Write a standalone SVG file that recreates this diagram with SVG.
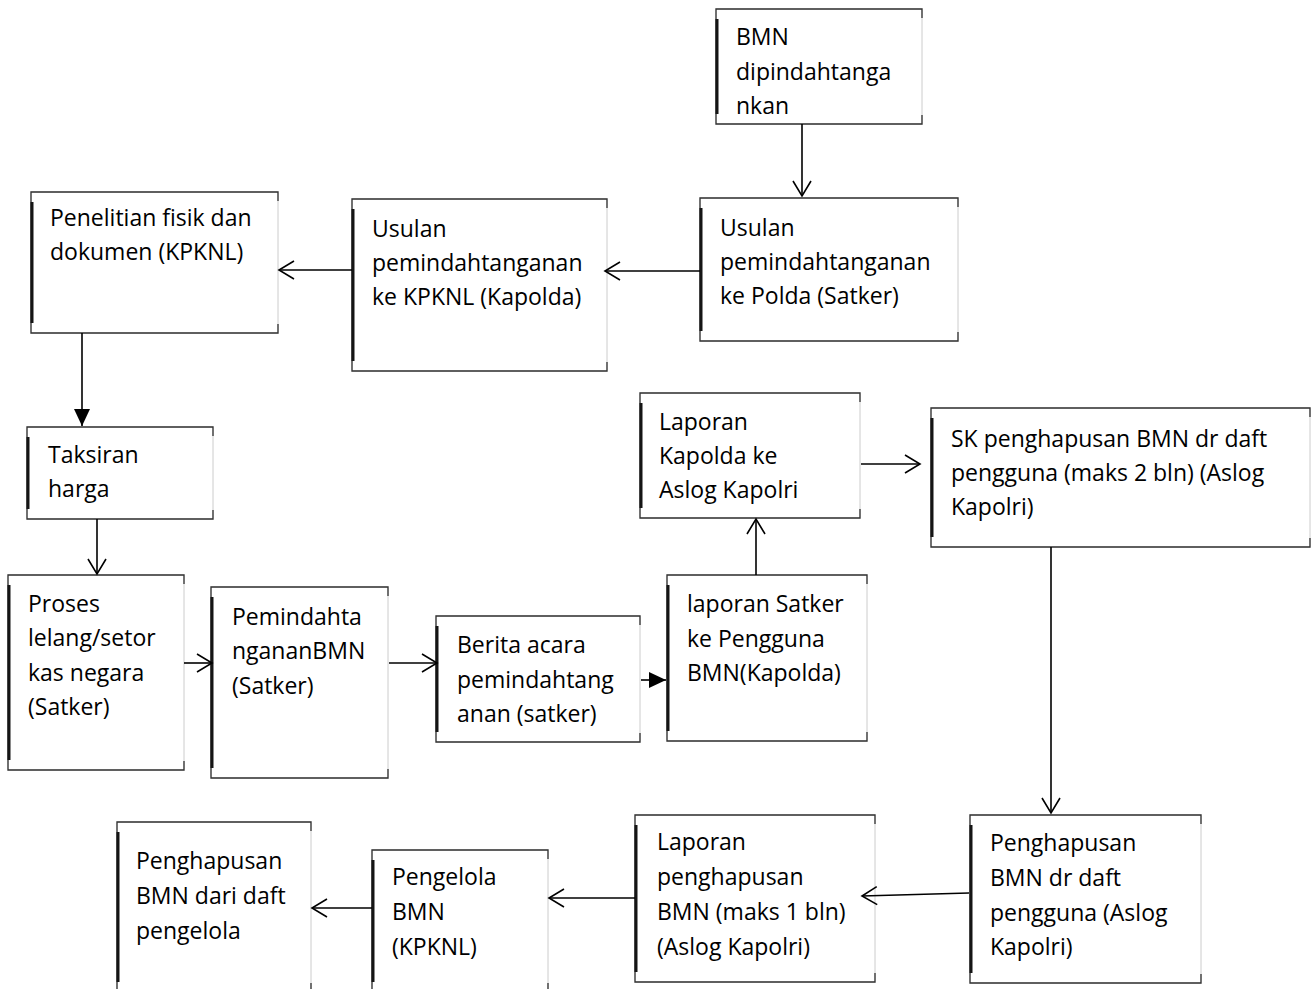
<svg xmlns="http://www.w3.org/2000/svg" width="1315" height="989" viewBox="0 0 1315 989">
<style>
.bx{fill:#fff;stroke:#cccccc;stroke-width:1}
.bd{fill:none;stroke:#333;stroke-width:1.3}
.bl{stroke:#151515;stroke-width:3}
text{font-family:"Open Sans","Noto Sans","Liberation Sans",sans-serif;font-size:23px;fill:#000}
.c{fill:none;stroke:#000;stroke-width:1.6}
.o{marker-end:url(#ao)}
.f{marker-end:url(#af)}
</style>
<defs>
<marker id="ao" viewBox="0 0 20 20" refX="18" refY="10" markerWidth="20" markerHeight="20" markerUnits="userSpaceOnUse" orient="auto">
<path d="M3,1 L18,10 L3,19" fill="none" stroke="#000" stroke-width="1.6"/>
</marker>
<marker id="af" viewBox="0 0 18 18" refX="17" refY="9" markerWidth="18" markerHeight="18" markerUnits="userSpaceOnUse" orient="auto">
<path d="M0,1 L17,9 L0,17 Z" fill="#000"/>
</marker>
</defs>
<rect width="1315" height="989" fill="#fff"/>

<g id="n-a">
<rect class="bx" x="716" y="9" width="206" height="115"/>
<path class="bd" d="M922,18 V9 H716 V124 H922 V115"/>
<line class="bl" x1="717" y1="19" x2="717" y2="114"/>
<text x="736" y="45">BMN</text>
<text x="736" y="80">dipindahtanga</text>
<text x="736" y="114">nkan</text>
</g>

<g id="n-b">
<rect class="bx" x="700" y="198" width="258" height="143"/>
<path class="bd" d="M958,207 V198 H700 V341 H958 V332"/>
<line class="bl" x1="701" y1="208" x2="701" y2="331"/>
<text x="720" y="236">Usulan</text>
<text x="720" y="270">pemindahtanganan</text>
<text x="720" y="304">ke Polda (Satker)</text>
</g>

<g id="n-c">
<rect class="bx" x="352" y="199" width="255" height="172"/>
<path class="bd" d="M607,208 V199 H352 V371 H607 V362"/>
<line class="bl" x1="353" y1="209" x2="353" y2="361"/>
<text x="372" y="237">Usulan</text>
<text x="372" y="271">pemindahtanganan</text>
<text x="372" y="305">ke KPKNL (Kapolda)</text>
</g>

<g id="n-d">
<rect class="bx" x="31" y="192" width="247" height="141"/>
<path class="bd" d="M278,201 V192 H31 V333 H278 V324"/>
<line class="bl" x1="32" y1="202" x2="32" y2="323"/>
<text x="50" y="226">Penelitian fisik dan</text>
<text x="50" y="260">dokumen (KPKNL)</text>
</g>

<g id="n-e">
<rect class="bx" x="27" y="427" width="186" height="92"/>
<path class="bd" d="M213,436 V427 H27 V519 H213 V510"/>
<line class="bl" x1="28" y1="437" x2="28" y2="509"/>
<text x="48" y="463">Taksiran</text>
<text x="48" y="497">harga</text>
</g>

<g id="n-f">
<rect class="bx" x="8" y="575" width="176" height="195"/>
<path class="bd" d="M184,584 V575 H8 V770 H184 V761"/>
<line class="bl" x1="9" y1="585" x2="9" y2="760"/>
<text x="28" y="612">Proses</text>
<text x="28" y="646">lelang/setor</text>
<text x="28" y="681">kas negara</text>
<text x="28" y="715">(Satker)</text>
</g>

<g id="n-g">
<rect class="bx" x="211" y="587" width="177" height="191"/>
<path class="bd" d="M388,596 V587 H211 V778 H388 V769"/>
<line class="bl" x1="212" y1="597" x2="212" y2="768"/>
<text x="232" y="625">Pemindahta</text>
<text x="232" y="659">ngananBMN</text>
<text x="232" y="694">(Satker)</text>
</g>

<g id="n-h">
<rect class="bx" x="436" y="616" width="204" height="126"/>
<path class="bd" d="M640,625 V616 H436 V742 H640 V733"/>
<line class="bl" x1="437" y1="626" x2="437" y2="732"/>
<text x="457" y="653">Berita acara</text>
<text x="457" y="688">pemindahtang</text>
<text x="457" y="722">anan (satker)</text>
</g>

<g id="n-i">
<rect class="bx" x="667" y="575" width="200" height="166"/>
<path class="bd" d="M867,584 V575 H667 V741 H867 V732"/>
<line class="bl" x1="668" y1="585" x2="668" y2="731"/>
<text x="687" y="612">laporan Satker</text>
<text x="687" y="647">ke Pengguna</text>
<text x="687" y="681">BMN(Kapolda)</text>
</g>

<g id="n-j">
<rect class="bx" x="640" y="393" width="220" height="125"/>
<path class="bd" d="M860,402 V393 H640 V518 H860 V509"/>
<line class="bl" x1="641" y1="403" x2="641" y2="508"/>
<text x="659" y="430">Laporan</text>
<text x="659" y="464">Kapolda ke</text>
<text x="659" y="498">Aslog Kapolri</text>
</g>

<g id="n-k">
<rect class="bx" x="931" y="408" width="379" height="139"/>
<path class="bd" d="M1310,417 V408 H931 V547 H1310 V538"/>
<line class="bl" x1="932" y1="418" x2="932" y2="537"/>
<text x="951" y="447">SK penghapusan BMN dr daft</text>
<text x="951" y="481">pengguna (maks 2 bln) (Aslog</text>
<text x="951" y="515">Kapolri)</text>
</g>

<g id="n-l">
<rect class="bx" x="970" y="815" width="231" height="168"/>
<path class="bd" d="M1201,824 V815 H970 V983 H1201 V974"/>
<line class="bl" x1="971" y1="825" x2="971" y2="973"/>
<text x="990" y="851">Penghapusan</text>
<text x="990" y="886">BMN dr daft</text>
<text x="990" y="921">pengguna (Aslog</text>
<text x="990" y="955">Kapolri)</text>
</g>

<g id="n-m">
<rect class="bx" x="635" y="815" width="240" height="167"/>
<path class="bd" d="M875,824 V815 H635 V982 H875 V973"/>
<line class="bl" x1="636" y1="825" x2="636" y2="972"/>
<text x="657" y="850">Laporan</text>
<text x="657" y="885">penghapusan</text>
<text x="657" y="920">BMN (maks 1 bln)</text>
<text x="657" y="955">(Aslog Kapolri)</text>
</g>

<g id="n-n">
<rect class="bx" x="372" y="850" width="176" height="142"/>
<path class="bd" d="M548,859 V850 H372 V992 H548 V983"/>
<line class="bl" x1="373" y1="860" x2="373" y2="982"/>
<text x="392" y="885">Pengelola</text>
<text x="392" y="920">BMN</text>
<text x="392" y="955">(KPKNL)</text>
</g>

<g id="n-o">
<rect class="bx" x="117" y="822" width="194" height="170"/>
<path class="bd" d="M311,831 V822 H117 V992 H311 V983"/>
<line class="bl" x1="118" y1="832" x2="118" y2="982"/>
<text x="136" y="869">Penghapusan</text>
<text x="136" y="904">BMN dari daft</text>
<text x="136" y="939">pengelola</text>
</g>

<g id="connectors">
<path class="c o" d="M802,124 V196"/>
<path class="c o" d="M700,271 H605"/>
<path class="c o" d="M352,270 H279"/>
<path class="c f" d="M82,333 V426"/>
<path class="c o" d="M97,519 V574"/>
<path class="c o" d="M184,663 H212"/>
<path class="c o" d="M389,663 H437"/>
<path class="c f" d="M641,680 H666"/>
<path class="c o" d="M756,575 V519"/>
<path class="c o" d="M861,464 H920"/>
<path class="c o" d="M1051,547 V813"/>
<path class="c o" d="M969,893 L862,896"/>
<path class="c o" d="M635,898 H549"/>
<path class="c o" d="M372,908 H312"/>
</g>
</svg>
